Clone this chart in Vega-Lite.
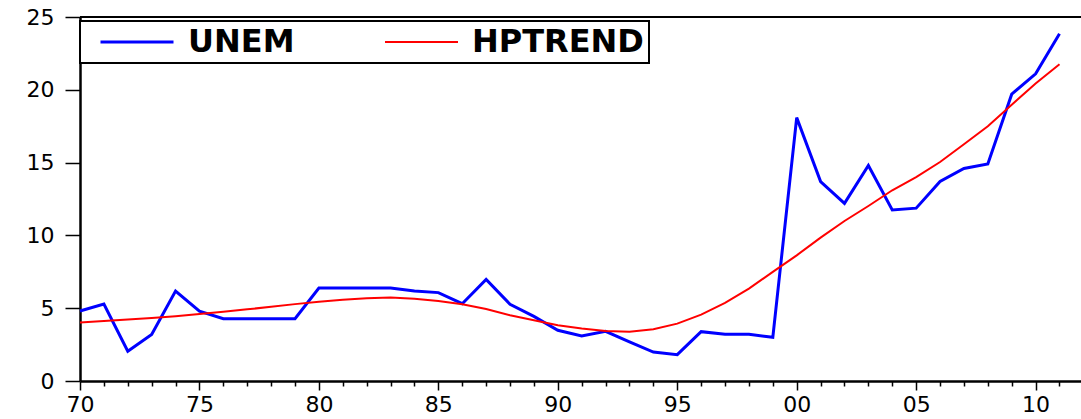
{
  "$schema": "https://vega.github.io/schema/vega-lite/v6.json",
  "autosize": "none",
  "padding": {"left": 80, "top": 17, "right": 0, "bottom": 38},
  "width": 1001,
  "height": 364,
  "background": "white",
  "config": {
    "view": {"stroke": null},
    "axis": {
      "domainColor": "black",
      "domainWidth": 2.5,
      "tickColor": "black",
      "tickWidth": 1.5,
      "labelColor": "black",
      "labelFont": "DejaVu Sans",
      "labelFontSize": 22,
      "grid": false,
      "title": null
    },
    "legend": {
      "orient": "none",
      "legendX": 0,
      "legendY": 4,
      "direction": "horizontal",
      "strokeColor": "black",
      "strokeWidth": 2,
      "fillColor": "white",
      "padding": 5,
      "clipHeight": 32,
      "symbolType": "M-1,0H1",
      "symbolSize": 5329,
      "symbolStrokeWidth": 2,
      "symbolOffset": 14,
      "labelOffset": 13,
      "labelFont": "DejaVu Sans",
      "labelFontWeight": "bold",
      "labelFontSize": 32,
      "labelColor": "black",
      "labelLimit": 0,
      "columnPadding": 75
    }
  },
  "data": {
    "values": [
      {"year": 1970, "UNEM": 4.81, "HPTREND": 4.02},
      {"year": 1971, "UNEM": 5.29, "HPTREND": 4.12},
      {"year": 1972, "UNEM": 2.04, "HPTREND": 4.22},
      {"year": 1973, "UNEM": 3.2, "HPTREND": 4.32},
      {"year": 1974, "UNEM": 6.18, "HPTREND": 4.45},
      {"year": 1975, "UNEM": 4.79, "HPTREND": 4.6},
      {"year": 1976, "UNEM": 4.28, "HPTREND": 4.75},
      {"year": 1977, "UNEM": 4.28, "HPTREND": 4.92},
      {"year": 1978, "UNEM": 4.28, "HPTREND": 5.1},
      {"year": 1979, "UNEM": 4.28, "HPTREND": 5.28},
      {"year": 1980, "UNEM": 6.39, "HPTREND": 5.45},
      {"year": 1981, "UNEM": 6.39, "HPTREND": 5.58},
      {"year": 1982, "UNEM": 6.39, "HPTREND": 5.68},
      {"year": 1983, "UNEM": 6.39, "HPTREND": 5.73},
      {"year": 1984, "UNEM": 6.18, "HPTREND": 5.65},
      {"year": 1985, "UNEM": 6.07, "HPTREND": 5.49},
      {"year": 1986, "UNEM": 5.31, "HPTREND": 5.27},
      {"year": 1987, "UNEM": 6.98, "HPTREND": 4.95},
      {"year": 1988, "UNEM": 5.27, "HPTREND": 4.51},
      {"year": 1989, "UNEM": 4.44, "HPTREND": 4.17},
      {"year": 1990, "UNEM": 3.48, "HPTREND": 3.83},
      {"year": 1991, "UNEM": 3.09, "HPTREND": 3.6},
      {"year": 1992, "UNEM": 3.41, "HPTREND": 3.43},
      {"year": 1993, "UNEM": 2.68, "HPTREND": 3.39},
      {"year": 1994, "UNEM": 1.99, "HPTREND": 3.55},
      {"year": 1995, "UNEM": 1.81, "HPTREND": 3.94},
      {"year": 1996, "UNEM": 3.39, "HPTREND": 4.56},
      {"year": 1997, "UNEM": 3.21, "HPTREND": 5.36},
      {"year": 1998, "UNEM": 3.21, "HPTREND": 6.35},
      {"year": 1999, "UNEM": 3.0, "HPTREND": 7.49},
      {"year": 2000, "UNEM": 18.09, "HPTREND": 8.63},
      {"year": 2001, "UNEM": 13.7, "HPTREND": 9.85},
      {"year": 2002, "UNEM": 12.2, "HPTREND": 10.99},
      {"year": 2003, "UNEM": 14.8, "HPTREND": 12.02},
      {"year": 2004, "UNEM": 11.75, "HPTREND": 13.1},
      {"year": 2005, "UNEM": 11.87, "HPTREND": 14.01},
      {"year": 2006, "UNEM": 13.7, "HPTREND": 15.04},
      {"year": 2007, "UNEM": 14.6, "HPTREND": 16.26},
      {"year": 2008, "UNEM": 14.9, "HPTREND": 17.49},
      {"year": 2009, "UNEM": 19.7, "HPTREND": 18.98},
      {"year": 2010, "UNEM": 21.1, "HPTREND": 20.43},
      {"year": 2011, "UNEM": 23.85, "HPTREND": 21.75}
    ]
  },
  "layer": [
    {
      "transform": [{"fold": ["UNEM", "HPTREND"], "as": ["series", "value"]}],
      "mark": {"type": "line"},
      "encoding": {
        "x": {
          "field": "year",
          "type": "quantitative",
          "scale": {"domain": [1970, 2011.9], "nice": false, "zero": false},
          "axis": {
            "values": [1970,1971,1972,1973,1974,1975,1976,1977,1978,1979,1980,1981,1982,1983,1984,1985,1986,1987,1988,1989,1990,1991,1992,1993,1994,1995,1996,1997,1998,1999,2000,2001,2002,2003,2004,2005,2006,2007,2008,2009,2010,2011],
            "labelExpr": "datum.value % 5 === 0 ? substring(toString(datum.value), 2) : ''",
            "tickSize": {"condition": {"test": "datum.value % 5 === 0", "value": 9}, "value": 5},
            "labelPadding": 4,
            "labelFlush": false,
            "labelOverlap": false
          }
        },
        "y": {
          "field": "value",
          "type": "quantitative",
          "scale": {"domain": [0, 25], "nice": false},
          "axis": {"values": [0, 5, 10, 15, 20, 25], "tickSize": 15, "labelPadding": 11}
        },
        "color": {
          "field": "series",
          "type": "nominal",
          "scale": {"domain": ["UNEM", "HPTREND"], "range": ["#0000FF", "#FF0000"]},
          "legend": {"title": null}
        },
        "strokeWidth": {
          "field": "series",
          "type": "nominal",
          "scale": {"domain": ["UNEM", "HPTREND"], "range": [3, 2]},
          "legend": null
        }
      }
    },
    {
      "mark": {"type": "rule", "color": "black", "strokeWidth": 1.5},
      "encoding": {"y": {"datum": 25}}
    }
  ]
}
